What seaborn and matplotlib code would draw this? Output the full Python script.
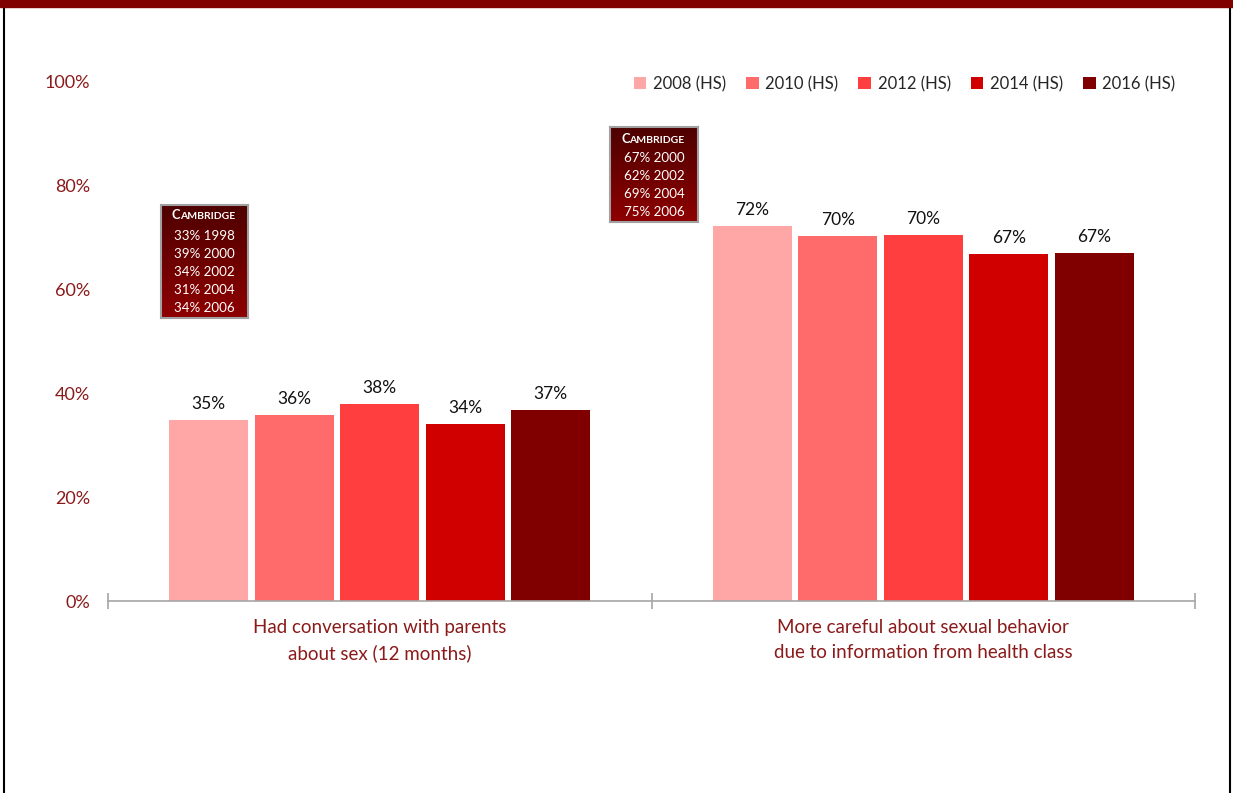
import matplotlib
matplotlib.use("Agg")
import matplotlib.pyplot as plt
import numpy as np
import pandas as pd
import seaborn as sns
from matplotlib.patches import Rectangle
from matplotlib.lines import Line2D

# Survey measures and yearly high-school results (percent)
measures = ["Had conversation with parents\nabout sex (12 months)",
            "More careful about sexual behavior\ndue to information from health class"]
years = ["2008 (HS)", "2010 (HS)", "2012 (HS)", "2014 (HS)", "2016 (HS)"]
parents_talk = [34.8, 35.8, 37.9, 34.0, 36.7]
health_class = [72.1, 70.2, 70.4, 66.7, 66.9]
palette = ["#FFA7A7", "#FF6B6B", "#FF3F3F", "#D00000", "#800000"]

# Earlier Cambridge results shown in the side boxes
cambridge_parents = ["33% 1998", "39% 2000", "34% 2002", "31% 2004", "34% 2006"]
cambridge_health = ["67% 2000", "62% 2002", "69% 2004", "75% 2006"]

y_ticks = [0, 20, 40, 60, 80, 100]

DARK_RED = "#8B1A1A"
FONT = ["Lato", "DejaVu Sans"]

sns.set_theme(style="white")
plt.rcParams["font.family"] = FONT

df = pd.DataFrame({
    "measure": [measures[0]] * len(years) + [measures[1]] * len(years),
    "year": years * 2,
    "pct": parents_talk + health_class,
})

fig = plt.figure(figsize=(12.33, 7.93), dpi=100)
ax = fig.add_axes([108 / 1233, 192 / 793, 1087 / 1233, (601 - 81) / 793])

sns.barplot(data=df, x="measure", y="pct", hue="year", palette=palette,
            width=0.787, gap=0.075, ax=ax, saturation=1, legend=True,
            linewidth=0)

ax.set_xlim(-0.5, 1.5)
ax.set_ylim(0, 100)
ax.set_xlabel("")
ax.set_ylabel("")

# value labels above each bar
for cont in ax.containers:
    ax.bar_label(cont, labels=[f"{v:.0f}%" for v in cont.datavalues],
                 padding=6, fontsize=12.5, color="#111111")

# y axis: percent labels, no axis line
ax.set_yticks(y_ticks)
ax.set_yticklabels([f"{t}%" for t in y_ticks], color=DARK_RED, fontsize=13)
ax.tick_params(axis="y", length=0, pad=13)

# x axis: category labels, boundary tick marks
ax.set_xticks([0, 1])
ax.set_xticklabels(measures, color=DARK_RED, fontsize=13.5, linespacing=1.55)
ax.tick_params(axis="x", which="major", length=0, pad=13)
ax.set_xticks([-0.5, 0.5, 1.5], minor=True)
ax.tick_params(axis="x", which="minor", bottom=True, length=12,
               direction="inout", color="#A6A6A6", width=1.2)

for side in ["top", "right", "left"]:
    ax.spines[side].set_visible(False)
ax.spines["bottom"].set_color("#A6A6A6")
ax.spines["bottom"].set_linewidth(1.2)

# legend across the top right
handles, labels = ax.get_legend_handles_labels()
ax.legend(handles, labels, ncol=5, loc="center right",
          bbox_to_anchor=(1182 / 1233, (793 - 84) / 793),
          bbox_transform=fig.transFigure, frameon=False, fontsize=12,
          handlelength=0.75, handleheight=0.75, handletextpad=0.4,
          columnspacing=1.2, borderaxespad=0)


def cambridge_box(left, top, right, bottom, rows, title_y, row_y0, row_step):
    """Dark red gradient box listing earlier Cambridge results."""
    W, H = 1233.0, 793.0
    bax = fig.add_axes([left / W, (H - bottom) / H, (right - left) / W,
                        (bottom - top) / H])
    grad = np.linspace(0, 1, 256).reshape(-1, 1)
    cmap = matplotlib.colors.LinearSegmentedColormap.from_list(
        "box", ["#4E0000", "#8E0000"])
    bax.imshow(grad, aspect="auto", cmap=cmap, extent=[0, 1, 0, 1],
               origin="upper")
    bax.set_xlim(0, 1)
    bax.set_ylim(0, 1)
    bax.set_xticks([])
    bax.set_yticks([])
    for sp in bax.spines.values():
        sp.set_color("#A0A0A0")
        sp.set_linewidth(1.5)
    h = bottom - top
    # small-caps style title
    ty = 1 - (title_y - top) / h
    t1 = bax.text(0.125, ty, "C", color="white", fontsize=9.3,
                  fontweight="bold", ha="left", va="baseline",
                  family=FONT)
    bax.annotate("AMBRIDGE", xy=(1, 0), xycoords=t1, color="white",
                 fontsize=7.5, fontweight="bold", ha="left", va="bottom",
                 family=FONT)
    for i, r in enumerate(rows):
        yy = 1 - (row_y0 + i * row_step - top) / h
        bax.text(0.5, yy, r, color="white", fontsize=9.6, ha="center",
                 va="center", family=FONT)


cambridge_box(161, 205, 248, 318, cambridge_parents, 219, 236, 18)
cambridge_box(610, 127, 698, 222, cambridge_health, 143, 158, 18)

# page frame: dark red band on top, black side rules
fig.patches.append(Rectangle((0, 1 - 7 / 793), 1, 7 / 793,
                             transform=fig.transFigure, color="#800000",
                             zorder=10))
fig.lines.append(Line2D([3.5 / 1233, 3.5 / 1233], [0, 1], transform=fig.transFigure,
                        color="black", linewidth=1.5))
fig.lines.append(Line2D([1230 / 1233, 1230 / 1233], [0, 1], transform=fig.transFigure,
                        color="black", linewidth=1.5))

fig.savefig("out.png", dpi=100, facecolor="white")
